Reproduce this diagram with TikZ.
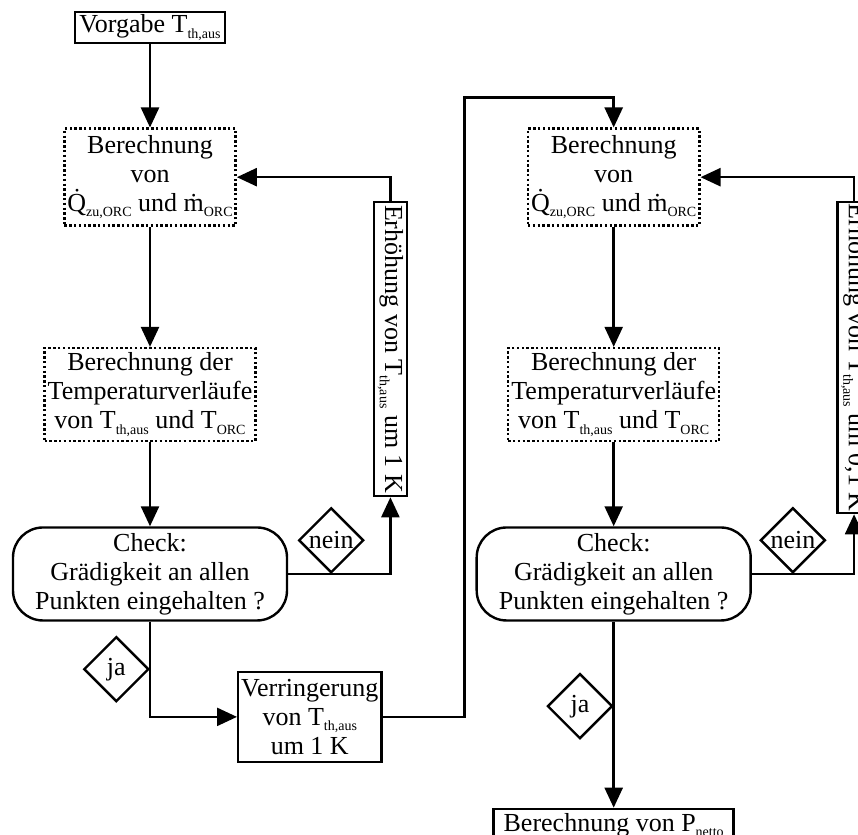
\documentclass[tikz,border=0pt]{standalone}
\usepackage{fontspec}
\setmainfont{Liberation Serif}
\usepackage{graphicx}
\usepackage{tikz}
\usetikzlibrary{arrows.meta,shapes.geometric,positioning,calc}
\newcommand{\lowidx}[1]{\raisebox{-0.45ex}{\fontsize{7}{8}\selectfont #1}}
\tikzset{
  plainbox/.style={draw, line width=1.2pt, align=center, inner sep=1.5pt,
                   font=\fontsize{13}{14.5}\selectfont},
  calcbox/.style ={plainbox, dash pattern=on 1.2pt off 1.2pt,
                   minimum width=#1, minimum height=48.5pt},
  calcbox/.default=85.5pt,
  checkbox/.style={plainbox, rounded corners=15pt,
                   minimum width=137pt, minimum height=46.5pt},
  stepbox/.style ={plainbox, inner sep=0pt, minimum width=16.5pt},
  decision/.style={draw, diamond, line width=1.2pt, aspect=1, inner sep=0pt,
                   minimum width=32.5pt, minimum height=32.5pt,
                   font=\fontsize{13}{14.5}\selectfont},
  arr/.style     ={-{Triangle[length=10pt,width=9pt]}, line width=1.2pt},
}

\begin{document}
\begin{tikzpicture}[node distance=42pt]
  \useasboundingbox (0,0) rectangle (429pt,-417.5pt);
  \clip (0,0) rectangle (429pt,-417.5pt);

  % linke Schleife
  \node[plainbox, minimum width=75pt, minimum height=15.5pt] (vorg)
        at (75pt,-13.75pt) {Vorgabe T\lowidx{th,aus}};
  \node[calcbox, below=41.5pt of vorg] (qb1)
        {Berechnung\\von\\\.{Q}\lowidx{zu,ORC} und \.{m}\lowidx{ORC}};
  \node[calcbox=105.5pt, minimum height=46.5pt, below=60pt of qb1] (tv1)
        {Berechnung der\\Temperaturverläufe\\von T\lowidx{th,aus} und T\lowidx{ORC}};
  \node[checkbox, below=42pt of tv1] (chk1)
        {Check:\\Grädigkeit an allen\\Punkten eingehalten ?};
  \node[decision, above=0pt of chk1.east, xshift=21.5pt] (nein1) {nein};
  \node[decision, left=0pt of chk1.south, yshift=-23.75pt] (ja1) {ja};
  \node[stepbox, minimum height=147pt, right=58pt of tv1, yshift=22.75pt] (erh1)
        {\rotatebox{-90}{Erhöhung von~T\lowidx{th,aus}\ um 1 K}};
  \node[plainbox, minimum width=70.5pt, minimum height=45pt,
        below right=24.5pt and 43.5pt of chk1.south] (verr)
        {Verringerung\\von T\lowidx{th,aus}\\um 1 K};

  % rechte Schleife
  \node[calcbox, right=145pt of qb1] (qb2)
        {Berechnung\\von\\\.{Q}\lowidx{zu,ORC} und \.{m}\lowidx{ORC}};
  \node[calcbox=105.5pt, minimum height=46.5pt, below=60pt of qb2] (tv2)
        {Berechnung der\\Temperaturverläufe\\von T\lowidx{th,aus} und T\lowidx{ORC}};
  \node[checkbox, below=42pt of tv2] (chk2)
        {Check:\\Grädigkeit an allen\\Punkten eingehalten ?};
  \node[decision, above=0pt of chk2.east, xshift=20.5pt] (nein2) {nein};
  \node[decision, left=0pt of chk2.south, yshift=-42.25pt] (ja2) {ja};
  \node[stepbox, minimum height=155.5pt, right=58pt of tv2, yshift=18.5pt] (erh2)
        {\rotatebox{-90}{Erhöhung von~T\lowidx{th,aus}\ um 0,1 K}};
  \node[plainbox, minimum width=120pt, minimum height=16.5pt, below=93pt of chk2]
        (pnet) {Berechnung von P\lowidx{netto}};

  \draw[arr](vorg)--(qb1);\draw[arr](qb1)--(tv1);\draw[arr](tv1)--(chk1);
  \draw[arr](chk1.east)-|(erh1.south);\draw[arr](erh1.north)|-(qb1.east);
  \draw[arr](chk1.south)|-(verr.west);
  \draw[arr](verr.east)--++(41pt,0)|-([yshift=15pt]qb2.north)--(qb2.north);
  \draw[arr](qb2)--(tv2);\draw[arr](tv2)--(chk2);
  \draw[arr](chk2.east)-|(erh2.south);\draw[arr](erh2.north)|-(qb2.east);
  \draw[arr](chk2)--(pnet);
\end{tikzpicture}
\end{document}
